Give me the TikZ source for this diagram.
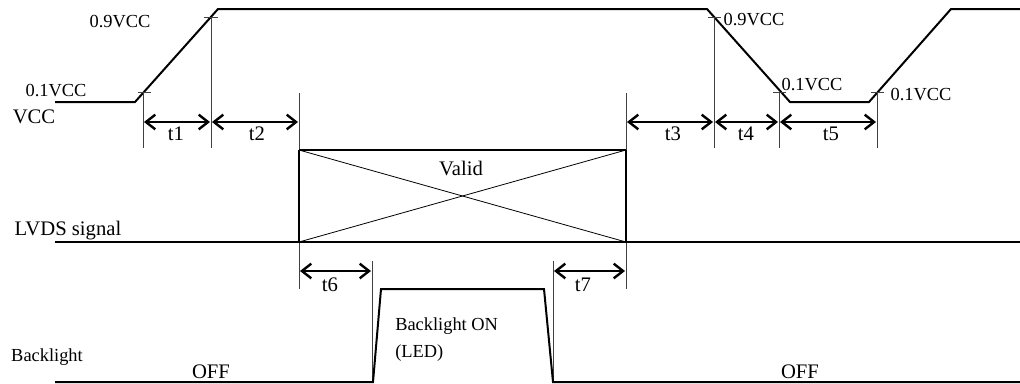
\documentclass[tikz,border=0pt]{standalone}
\usepackage{fontspec}
\setmainfont{Liberation Serif}
\usetikzlibrary{arrows.meta}
\begin{document}
\begin{tikzpicture}[x=0.75pt, y=-0.75pt,
		wave/.style={line width=1.5pt},
		guide/.style={line width=0.6pt, black!75},
		span/.style={line width=1.6pt, {Straight Barb[length=7pt,width=11pt,line width=1.8pt]}-{Straight Barb[length=7pt,width=11pt,line width=1.8pt]}},
		lbl/.style={inner sep=0pt, font=\fontsize{15.5}{18}\selectfont},
		small/.style={inner sep=0pt, font=\fontsize{13.8}{16}\selectfont}]
		\useasboundingbox (0,0) rectangle (1020,383);
		% VCC
		\draw[wave] (55,102) -- (135,102) -- (218,9) -- (707,9) -- (790,102) -- (869,102) -- (951,9) -- (1020,9);
		\draw[guide] (138,92) -- (151,92);
		\draw[guide] (204,17) -- (218,17);
		\draw[guide] (708,17) -- (721,17);
		\draw[guide] (773,92) -- (786,92);
		\draw[guide] (871,92) -- (884,92);
		\draw[guide] (143,92) -- (143,148);
		\draw[guide] (211,17) -- (211,148);
		\draw[guide] (299,93) -- (299,289);
		\draw[guide] (626,93) -- (626,289);
		\draw[guide] (714,17) -- (714,148);
		\draw[guide] (779,92) -- (779,148);
		\draw[guide] (877,92) -- (877,148);
		\draw[guide] (372,261) -- (372,382);
		\draw[guide] (553,261) -- (553,382);
		\node[small] (l09a) at (120,22) {0.9VCC};
		\node[small] (l01a) at (56,91) {0.1VCC};
		\node[lbl] (lvcc) at (34,117) {VCC};
		\node[small] (l09b) at (754,20) {0.9VCC};
		\node[small] (l01b) at (812,85) {0.1VCC};
		\node[small] (l01c) at (921,95) {0.1VCC};
		% times
		\draw[span] (144,122) -- (210,122);
		\draw[span] (212,122) -- (298,122);
		\draw[span] (627,122) -- (713,122);
		\draw[span] (715,122) -- (778,122);
		\draw[span] (780,122) -- (876,122);
		\draw[span] (300,271) -- (371,271);
		\draw[span] (554,271) -- (625,271);
		\node[lbl] (t1) at (176,134) {t1};
		\node[lbl] (t2) at (257,134) {t2};
		\node[lbl] (t3) at (673,134) {t3};
		\node[lbl] (t4) at (746,134) {t4};
		\node[lbl] (t5) at (831,134) {t5};
		\node[lbl] (t6) at (330,285) {t6};
		\node[lbl] (t7) at (583,285) {t7};
		% LVDS
		\draw[wave] (55,242) -- (1020,242);
		\draw[line width=1pt] (299,150) -- (626,150);
		\draw[wave] (299,150) -- (299,242);
		\draw[wave] (626,150) -- (626,242);
		\draw[line width=0.6pt] (299,150) -- (626,242);
		\draw[line width=0.6pt] (299,242) -- (626,150);
		\node[lbl] (valid) at (461,168) {Valid};
		\node[lbl] (llvds) at (68,231) {LVDS signal};
		% Backlight
		\draw[wave] (55,382) -- (373,382) -- (381,289) -- (544,289) -- (553,382) -- (1020,382);
		\node[small] (lbl) at (47,357) {Backlight};
		\node[lbl] (off1) at (211,372) {OFF};
		\node[lbl] (off2) at (800,372) {OFF};
		\node[small, anchor=west] (on) at (395,326) {Backlight ON};
		\node[small, anchor=west] (led) at (395,353) {(LED)};
\end{tikzpicture}
\end{document}
